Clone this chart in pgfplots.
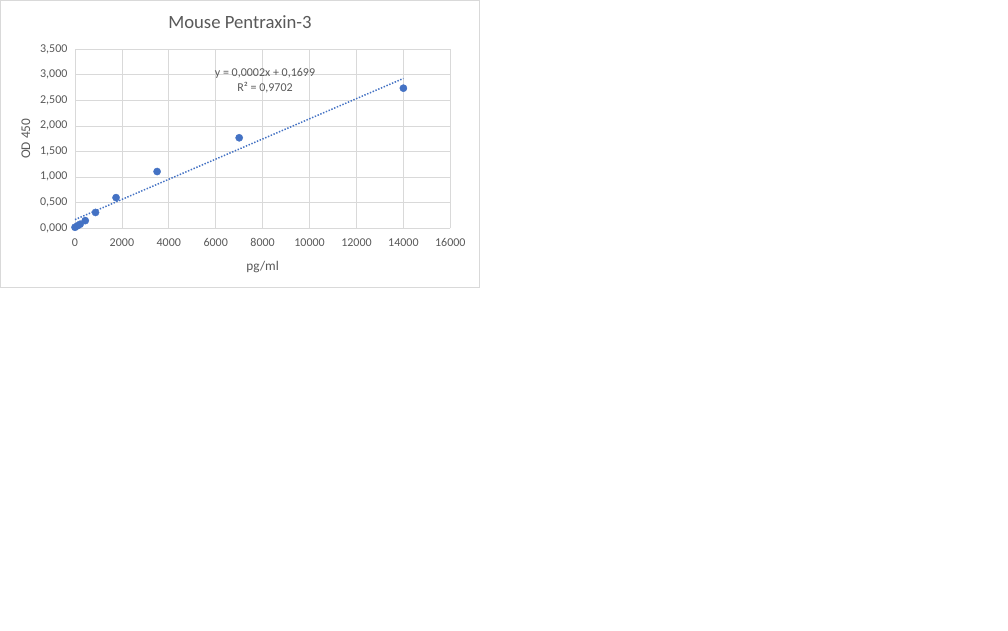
\documentclass[border=0pt]{standalone}
\usepackage{pgfplots}
\pgfplotsset{compat=1.18}
\usepackage{fontspec}
\setmainfont{Carlito}
\definecolor{xlblue}{HTML}{4472C4}
\definecolor{xlgrid}{HTML}{D9D9D9}
\definecolor{xltext}{HTML}{595959}
\begin{document}
\begin{tikzpicture}[x=1pt,y=1pt]
\fill[white] (0,0) rectangle (1008,630);
\draw[xlgrid, line width=1pt] (0.5,342.5) rectangle (479.5,629.5);
\node[text=xltext, font=\fontsize{18.7}{22}\selectfont] at (240,608) {Mouse Pentraxin-3};
\begin{axis}[
  at={(75pt,401.7pt)}, anchor=south west,
  scale only axis, width=375.3pt, height=179pt,
  xmin=0, xmax=16000, ymin=0, ymax=3.5,
  xtick={0,2000,...,16000},
  ytick={0,0.5,...,3.5},
  scaled x ticks=false, scaled y ticks=false,
  grid=major,
  major grid style={xlgrid, line width=0.8pt},
  axis line style={draw=none},
  tick style={draw=none},
  typeset ticklabels with strut,
  tick label style={text=xltext, font=\fontsize{12}{14}\selectfont},
  /pgf/number format/assume math mode=true,
  xticklabel style={/pgf/number format/fixed, /pgf/number format/1000 sep={}},
  yticklabel style={/pgf/number format/fixed, /pgf/number format/fixed zerofill, /pgf/number format/precision=3, /pgf/number format/use comma},
  xticklabel shift=5pt,
  yticklabel shift=4pt,
  xlabel={pg/ml}, ylabel={OD 450},
  label style={text=xltext, font=\fontsize{13.3}{15}\selectfont},
  xlabel style={yshift=-4pt},
  ylabel style={yshift=3pt},
  clip=false,
]
\addplot[xlblue, line width=1.5pt, dash pattern=on 1.4pt off 1.6pt] coordinates {(0,0.1699) (14000,2.93)};
\addplot[only marks, mark=*, mark size=3.6pt, xlblue, mark options={draw=xlblue, fill=xlblue}] coordinates {
(0,0.02) (109,0.05) (218.75,0.08) (437.5,0.15) (875,0.31) (1750,0.60) (3500,1.11) (7000,1.77) (14000,2.74)};
\node[text=xltext, font=\fontsize{12}{15.5}\selectfont, align=center] at (axis cs:8100,2.89) {y = 0,0002x + 0,1699\\R² = 0,9702};
\end{axis}
\end{tikzpicture}
\end{document}
